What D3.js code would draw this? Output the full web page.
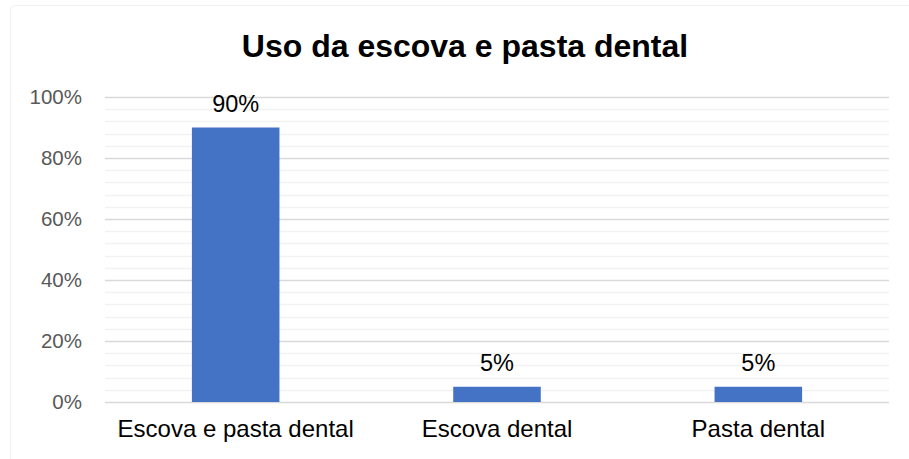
<!DOCTYPE html>
<html>
<head>
<meta charset="utf-8">
<title>Uso da escova e pasta dental</title>
<style>
  body { margin: 0; background: #fff; font-family: "Liberation Sans", Arial, sans-serif; }
  svg { display: block; }
</style>
</head>
<body>
<script src="https://d3js.org/d3.v7.min.js"></script>
<script>
// chart data
var categories = ["Escova e pasta dental", "Escova dental", "Pasta dental"];
var values = [0.90, 0.05, 0.05];
var majorTicks = [0, 0.2, 0.4, 0.6, 0.8, 1.0];
var minorTicks = [0.04, 0.08, 0.12, 0.16, 0.24, 0.28, 0.32, 0.36, 0.44, 0.48, 0.52, 0.56,
                  0.64, 0.68, 0.72, 0.76, 0.84, 0.88, 0.92, 0.96];
var title = "Uso da escova e pasta dental";

var width = 909, height = 459;
var margin = { top: 97, right: 20, bottom: 57, left: 105 };
var plotW = 889 - margin.left;
var plotH = 402 - margin.top;

var svg = d3.select("body").append("svg")
    .attr("width", width)
    .attr("height", height);

// faint chart-area border
svg.append("rect")
    .attr("x", 10.5).attr("y", 5.5)
    .attr("width", 920).attr("height", 470)
    .attr("rx", 4)
    .attr("fill", "none")
    .attr("stroke", "#f0f0f0");

var g = svg.append("g").attr("transform", "translate(" + margin.left + "," + margin.top + ")");

var x = d3.scaleBand().domain(categories).range([0, plotW]).paddingInner(0.665).paddingOuter(0.3325);
var y = d3.scaleLinear().domain([0, 1]).range([plotH, 0]);

// minor gridlines
g.append("g").selectAll("line")
    .data(minorTicks)
    .enter().append("line")
    .attr("x1", 0).attr("x2", plotW)
    .attr("y1", d => Math.round(y(d)) + 0.5).attr("y2", d => Math.round(y(d)) + 0.5)
    .attr("stroke", "#f2f2f2").attr("stroke-width", 1.5);

// major gridlines
g.append("g").selectAll("line")
    .data(majorTicks)
    .enter().append("line")
    .attr("x1", 0).attr("x2", plotW)
    .attr("y1", d => Math.round(y(d)) + 0.5).attr("y2", d => Math.round(y(d)) + 0.5)
    .attr("stroke", "#d9d9d9").attr("stroke-width", 1.5);

// y axis labels
var yAxis = d3.axisLeft(y).tickValues(majorTicks).tickFormat(d3.format(".0%")).tickSize(0).tickPadding(23);
g.append("g").call(yAxis)
    .call(s => s.select(".domain").remove())
    .selectAll("text")
    .attr("fill", "#595959")
    .style("font-family", "'Liberation Sans', Arial, sans-serif")
    .style("font-size", "20.5px");

// bars
g.append("g").selectAll("rect")
    .data(values)
    .enter().append("rect")
    .attr("x", (d, i) => x(categories[i]))
    .attr("width", x.bandwidth())
    .attr("y", d => y(d))
    .attr("height", d => plotH - y(d))
    .attr("fill", "#4472c4");

// data labels
g.append("g").selectAll("text")
    .data(values)
    .enter().append("text")
    .attr("x", (d, i) => x(categories[i]) + x.bandwidth() / 2)
    .attr("y", d => y(d) - 16)
    .attr("text-anchor", "middle")
    .attr("fill", "#000")
    .style("font-size", "23.5px")
    .text(d => d3.format(".0%")(d));

// x axis labels
var xAxis = d3.axisBottom(x).tickSize(0).tickPadding(18);
g.append("g").attr("transform", "translate(0," + plotH + ")").call(xAxis)
    .call(s => s.select(".domain").remove())
    .selectAll("text")
    .attr("fill", "#000")
    .style("font-family", "'Liberation Sans', Arial, sans-serif")
    .style("font-size", "24px");

// title
svg.append("text")
    .attr("x", 465).attr("y", 57)
    .attr("text-anchor", "middle")
    .style("font-size", "32px")
    .style("font-weight", "bold")
    .text(title);
</script>
</body>
</html>
